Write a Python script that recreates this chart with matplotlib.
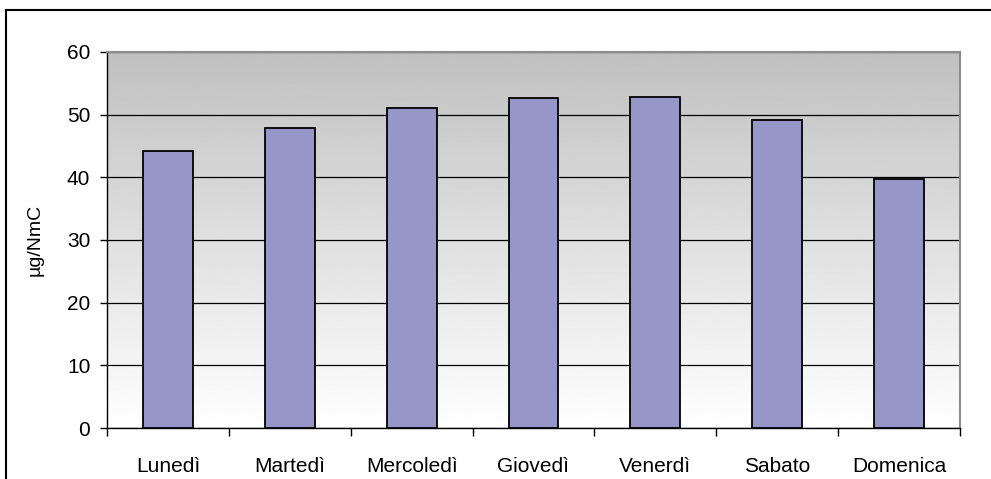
import numpy as np
import matplotlib
matplotlib.use("Agg")
import matplotlib.pyplot as plt
from matplotlib.lines import Line2D

plt.rcParams["font.family"] = ["Liberation Sans", "DejaVu Sans"]

giorni = ["Lunedì", "Martedì", "Mercoledì", "Giovedì", "Venerdì", "Sabato", "Domenica"]
valori = [44.2, 47.8, 51.1, 52.7, 52.8, 49.1, 39.7]
y_ticks = [0, 10, 20, 30, 40, 50, 60]

fig = plt.figure(figsize=(9.91, 4.79), dpi=100)
ax = fig.add_axes([107 / 991, 1 - 428 / 479, (960 - 107) / 991, (428 - 52) / 479])

x = np.arange(len(giorni))
xmin, xmax = -0.5, len(giorni) - 0.5
ymin, ymax = 0, 60

# sfondo grigio sfumato (scuro in alto, bianco in basso)
grad = np.linspace(0.753, 1.0, 256).reshape(-1, 1)
ax.imshow(grad, cmap="gray", vmin=0, vmax=1, aspect="auto", origin="upper",
          extent=[xmin, xmax, ymin, ymax], zorder=0, interpolation="bilinear")

ax.bar(x, valori, width=0.41, color="#9696C8", edgecolor="black", linewidth=1.3, zorder=3)

ax.set_xlim(xmin, xmax)
ax.set_ylim(ymin, ymax)
ax.set_yticks(y_ticks)
ax.yaxis.grid(True, color="black", linewidth=0.9, zorder=1)
ax.set_axisbelow(True)

ax.set_xticks(x)
ax.set_xticklabels(giorni, fontsize=15)
ax.set_xticks(np.arange(xmin, xmax + 0.01, 1.0), minor=True)
ax.tick_params(axis="x", which="major", length=0, pad=21)
ax.tick_params(axis="x", which="minor", length=6, width=1, color="black")
ax.tick_params(axis="y", length=5, width=1, pad=7, labelsize=15)

ax.set_ylabel("µg/NmC", fontsize=14, labelpad=17)

for s in ["left", "bottom"]:
    ax.spines[s].set_color("black")
    ax.spines[s].set_linewidth(1.0)
for s in ["top", "right"]:
    ax.spines[s].set_color("#8c8c8c")
    ax.spines[s].set_linewidth(1.5)

# cornice esterna del grafico
fx, fy = 6 / 991, 1 - 10 / 479
fig.add_artist(Line2D([fx, fx], [fy, -0.05], color="black", linewidth=1.5, transform=fig.transFigure))
fig.add_artist(Line2D([fx, 1.05], [fy, fy], color="black", linewidth=1.5, transform=fig.transFigure))

fig.savefig("out.png", dpi=100)
